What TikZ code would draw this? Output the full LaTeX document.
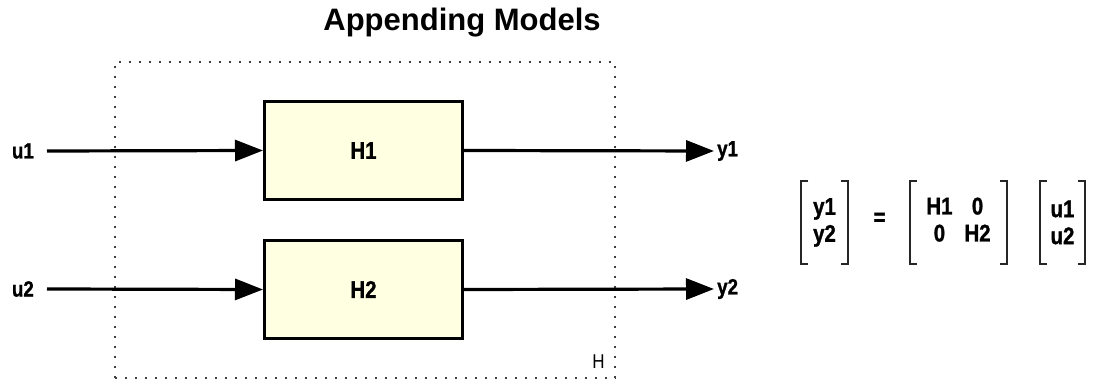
\documentclass[tikz,border=0pt]{standalone}
\usepackage{fontspec}
\setmainfont{Liberation Sans}[FakeStretch=0.85, BoldFeatures={FakeBold=1.2}]
\newfontfamily\titlefont{Liberation Sans}
\usetikzlibrary{arrows.meta, positioning}
\definecolor{blockfill}{HTML}{FFFFE1}
\tikzset{
    block/.style={rectangle, draw=black, line width=3pt, fill=blockfill, minimum width=198pt, minimum height=98pt, font=\fontsize{24}{28}\selectfont\bfseries},
    sig/.style={inner sep=0pt, font=\fontsize{22}{26}\selectfont\bfseries},
    sigarrow/.style={-{Triangle[length=28pt, width=21pt]}, line width=3.2pt, draw=black},
    groupbox/.style={rectangle, draw=black!75, line width=1.6pt, dash pattern=on 1.6pt off 8.4pt, minimum width=500pt, minimum height=316pt, inner sep=0pt},
    mat/.style={inner sep=0pt, minimum height=82pt, align=center, font=\fontsize{24}{27}\selectfont\bfseries},
    bracket/.style={line width=2pt, draw=black!85}
}
\newcommand{\matbrackets}[1]{%
    \draw[bracket] ([xshift=7pt]#1.north west) -- (#1.north west) -- (#1.south west) -- ++(7,0);
    \draw[bracket] ([xshift=-7pt]#1.north east) -- (#1.north east) -- (#1.south east) -- ++(-7,0);
}
\begin{document}
\begin{tikzpicture}[x=1pt, y=-1pt]
    \useasboundingbox (0,0) rectangle (1093,379);
    \node[font=\titlefont\fontsize{31}{34}\selectfont\bfseries] (title) at (462,23) {Appending Models};
    % the model H
    \node[groupbox] (Hgroup) at (365,220) {};
    \node[font=\fontsize{20}{24}\selectfont, anchor=south east, inner sep=0pt] (Hlabel) at ([xshift=-11pt, yshift=10pt]Hgroup.south east) {H};
    \node[block] (H1) at (363.5,150.5) {H1};
    \node[block] (H2) at (363.5,289.5) {H2};
    % inputs and outputs
    \node[sig, anchor=east] (u1) at (34,151) {u1};
    \node[sig, anchor=east] (u2) at (34,289) {u2};
    \node[sig, anchor=west] (y1) at (717,151) {y1};
    \node[sig, anchor=west] (y2) at (717,289) {y2};
    \draw[sigarrow] ([xshift=13pt]u1.east) -- (H1.west);
    \draw[sigarrow] ([xshift=13pt]u2.east) -- (H2.west);
    \draw[sigarrow] (H1.east) -- ([xshift=-3pt]y1.west);
    \draw[sigarrow] (H2.east) -- ([xshift=-3pt]y2.west);
    % matrix form
    \node[mat, minimum width=46pt] (yvec) at (824.5,222.5) {y1\\y2};
    \node[font=\fontsize{24}{28}\selectfont\bfseries] (eq) at (879.5,219) {=};
    \node[mat, minimum width=97pt] (Hmat) at (958.5,222.5) {\begin{tabular}{@{}c@{\hspace{12pt}}c@{}}H1 & 0\\0 & H2\end{tabular}};
    \node[mat, minimum width=45pt] (uvec) at (1062.5,222.5) {u1\\u2};
    \matbrackets{yvec}
    \matbrackets{Hmat}
    \matbrackets{uvec}
\end{tikzpicture}
\end{document}
